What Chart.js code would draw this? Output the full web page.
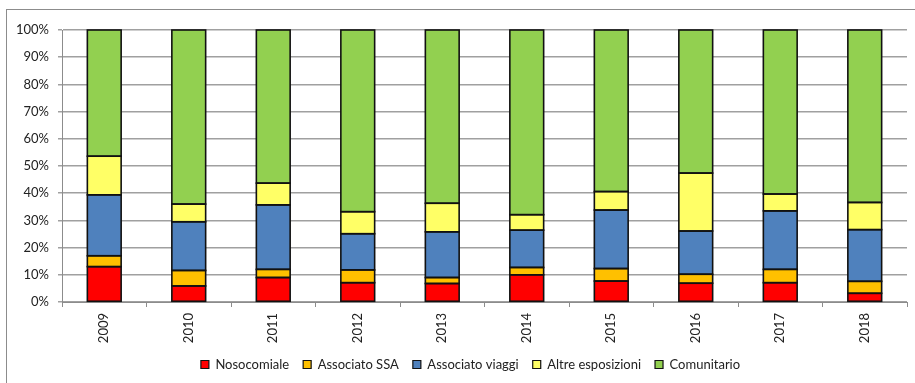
<!DOCTYPE html>
<html>
<head>
<meta charset="utf-8">
<script src="https://cdn.jsdelivr.net/npm/chart.js@4.4.1/dist/chart.umd.min.js"></script>
<style>
html,body{margin:0;padding:0;background:#fff;}
#wrap{position:relative;width:915px;height:383px;}
</style>
</head>
<body>
<div id="wrap"><canvas id="c" width="915" height="383"></canvas></div>
<script>
const years = ['2009','2010','2011','2012','2013','2014','2015','2016','2017','2018'];
const nosocomiale = [13.0, 5.9, 9.0, 7.1, 6.8, 10.0, 7.7, 6.9, 7.1, 3.2];
const associatoSSA = [4.0, 5.7, 3.0, 4.7, 2.2, 2.7, 4.6, 3.3, 4.9, 4.4];
const associatoViaggi = [22.4, 17.9, 23.7, 13.3, 16.8, 13.7, 21.5, 15.9, 21.5, 19.0];
const altreEsposizioni = [14.2, 6.5, 8.0, 8.1, 10.5, 5.7, 6.8, 21.3, 6.2, 10.0];
const comunitario = [46.4, 64.0, 56.3, 66.8, 63.7, 67.9, 59.4, 52.6, 60.3, 63.4];
const yTicks = ['0%','10%','20%','30%','40%','50%','60%','70%','80%','90%','100%'];

const FONT = 'Lato, "Liberation Sans", Arial, sans-serif';
Chart.defaults.font.family = FONT;
Chart.defaults.font.size = 13;
Chart.defaults.color = '#222';

function ds(label, data, color) {
  return {label, data, backgroundColor: color, borderColor: '#111', borderWidth: 0,
          stack: 's', categoryPercentage: 1.0, barPercentage: 0.40};
}

const framePlugin = {
  id: 'frame',
  beforeDraw(chart) {
    const ctx = chart.ctx;
    ctx.save();
    ctx.fillStyle = '#fff';
    ctx.fillRect(0, 0, chart.width, chart.height);
    ctx.strokeStyle = '#8c8c8c';
    ctx.lineWidth = 1;
    ctx.strokeRect(6.5, 9.5, 2000, 2000);
    ctx.restore();
  },
  afterLayout(chart) {
    const lg = chart.legend;
    if (lg) { lg.left += 17; lg.right += 17; }
  },
  afterDatasetsDraw(chart) {
    const ctx = chart.ctx;
    ctx.save();
    ctx.strokeStyle = '#111';
    ctx.lineWidth = 1.6;
    chart.data.datasets.forEach((d, i) => {
      const meta = chart.getDatasetMeta(i);
      meta.data.forEach(el => {
        const p = el.getProps(['x', 'y', 'base', 'width'], true);
        const l = p.x - p.width / 2, t = Math.min(p.y, p.base), h = Math.abs(p.base - p.y);
        ctx.strokeRect(l, t, p.width, h);
      });
    });
    ctx.restore();
  }
};

new Chart(document.getElementById('c'), {
  type: 'bar',
  data: {
    labels: years,
    datasets: [
      ds('Nosocomiale', nosocomiale, '#FF0000'),
      ds('Associato SSA', associatoSSA, '#FFC000'),
      ds('Associato viaggi', associatoViaggi, '#4F81BD'),
      ds('Altre esposizioni', altreEsposizioni, '#FFFF66'),
      ds('Comunitario', comunitario, '#92D050')
    ]
  },
  options: {
    responsive: false,
    animation: false,
    layout: {padding: {left: 0, right: 8, top: 30, bottom: 2}},
    plugins: {
      tooltip: {enabled: false},
      legend: {
        position: 'bottom',
        labels: {
          boxWidth: 8, boxHeight: 8, padding: 14, color: '#222',
          font: {size: 13, family: FONT},
          generateLabels(chart) {
            const items = Chart.defaults.plugins.legend.labels.generateLabels(chart);
            items.forEach(it => { it.strokeStyle = '#111'; it.lineWidth = 1.2; });
            return items;
          }
        }
      }
    },
    scales: {
      x: {
        stacked: true,
        offset: true,
        grid: {display: true, drawOnChartArea: false, drawTicks: true, tickLength: 5, color: '#8c8c8c', offset: true},
        border: {display: true, color: '#8c8c8c', width: 1},
        ticks: {maxRotation: 90, minRotation: 90, padding: 6, color: '#222', font: {size: 13, family: FONT}},
        afterFit(scale) { scale.height = 42; }
      },
      y: {
        stacked: true,
        min: 0, max: 100,
        grid: {color: '#a0a0a0', lineWidth: 1.5, tickLength: 4, drawTicks: true},
        border: {display: true, color: '#8c8c8c', width: 1},
        ticks: {stepSize: 10, padding: 9, color: '#222', font: {size: 13, family: FONT},
                callback: (v, i) => yTicks[Math.round(v / 10)]},
        afterFit(scale) { scale.width = 62; }
      }
    }
  },
  plugins: [framePlugin]
});
</script>
</body>
</html>
